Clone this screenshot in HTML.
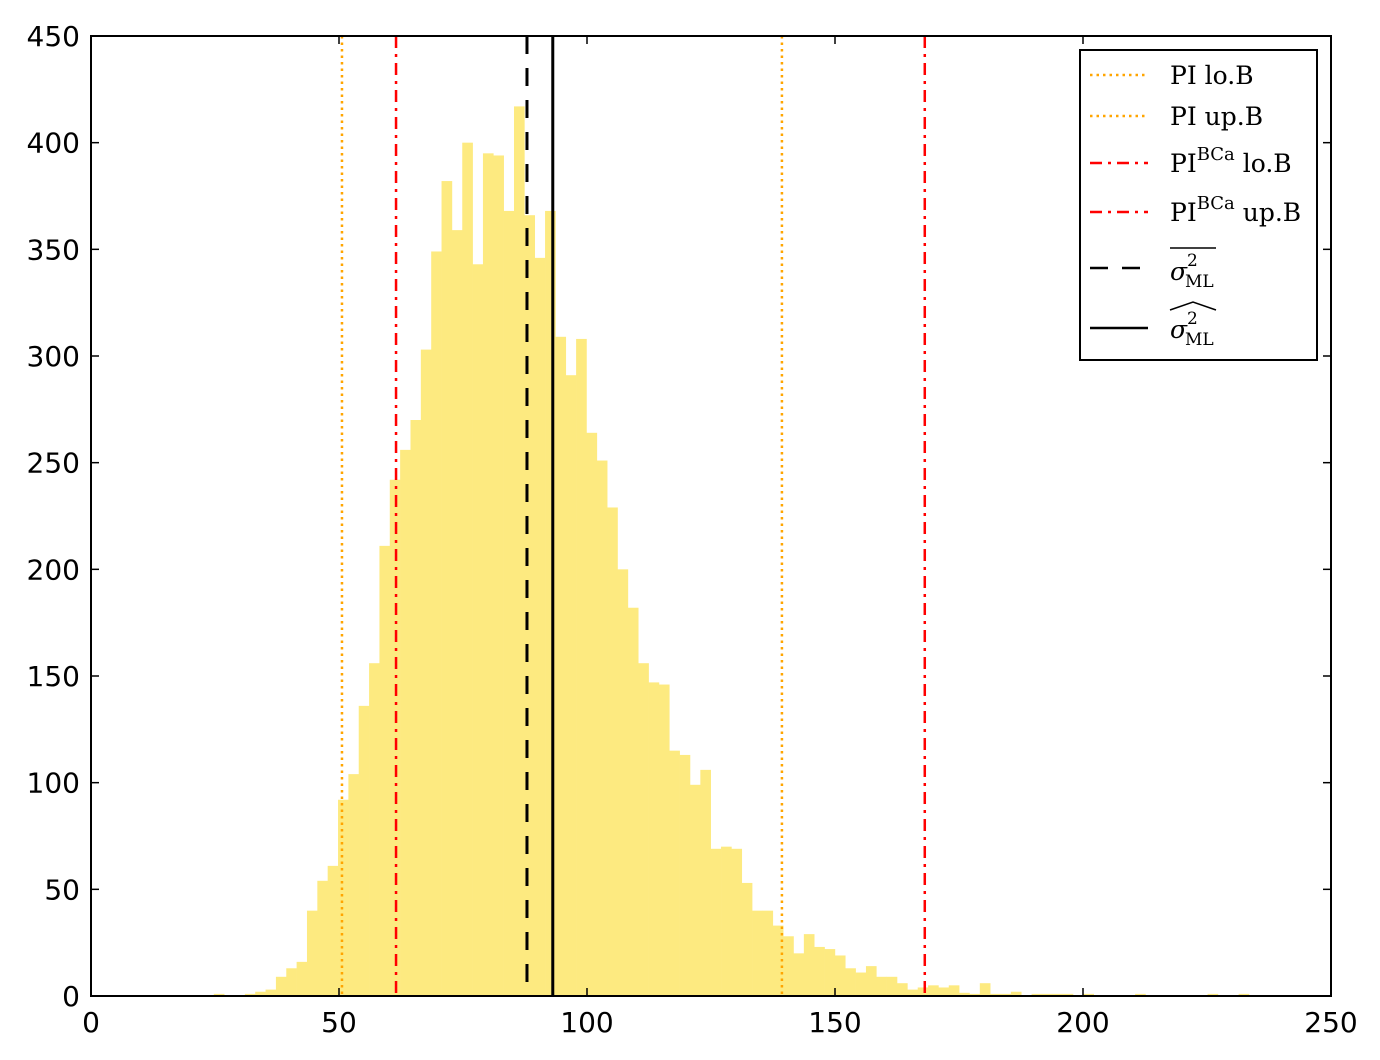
<!DOCTYPE html>
<html><head><meta charset="utf-8"><style>
body{margin:0;background:#fff}
svg{display:block}
.tk{font-family:"DejaVu Sans","Liberation Sans",sans-serif;font-size:28px;fill:#000}
.lg{font-family:"DejaVu Serif","Liberation Serif",serif;font-size:25px;fill:#000}
.sm{font-family:"DejaVu Serif","Liberation Serif",serif;font-size:17px;fill:#000}
</style></head><body>
<svg id="chart" width="1380" height="1060" viewBox="0 0 1380 1060" xmlns="http://www.w3.org/2000/svg">
<rect width="1380" height="1060" fill="#fff"/>
<g id="bars"></g>
<g id="vlines"></g>
<g id="axes"></g>
<g id="legend">
<rect x="1080" y="50" width="237" height="310" fill="#fff" stroke="#000" stroke-width="2"/>
<line x1="1090" y1="75" x2="1148" y2="75" stroke="#ffa500" stroke-width="2.5" stroke-dasharray="2.5,4"/>
<text class="lg" x="1170" y="84">PI lo.B</text>
<line x1="1090" y1="116" x2="1148" y2="116" stroke="#ffa500" stroke-width="2.5" stroke-dasharray="2.5,4"/>
<text class="lg" x="1170" y="125">PI up.B</text>
<line x1="1090" y1="163" x2="1148" y2="163" stroke="#f00" stroke-width="2.5" stroke-dasharray="12,6,3,6"/>
<text class="lg" x="1170" y="172">PI<tspan style="font-size:18px" dy="-12">BCa</tspan><tspan dy="12"> lo.B</tspan></text>
<line x1="1090" y1="212" x2="1148" y2="212" stroke="#f00" stroke-width="2.5" stroke-dasharray="12,6,3,6"/>
<text class="lg" x="1170" y="221">PI<tspan style="font-size:18px" dy="-12">BCa</tspan><tspan dy="12"> up.B</tspan></text>
<line x1="1090" y1="268" x2="1148" y2="268" stroke="#000" stroke-width="2.5" stroke-dasharray="18,14"/>
<line x1="1170" y1="248" x2="1216" y2="248" stroke="#000" stroke-width="1.5"/>
<text class="lg" x="1170" y="280" font-style="italic">σ</text>
<text class="sm" x="1187" y="266">2</text>
<text class="sm" x="1185" y="287">ML</text>
<line x1="1090" y1="328" x2="1148" y2="328" stroke="#000" stroke-width="2.5"/>
<polyline points="1170,310 1193,302 1216,310" fill="none" stroke="#000" stroke-width="1.5"/>
<text class="lg" x="1170" y="338" font-style="italic">σ</text>
<text class="sm" x="1187" y="324">2</text>
<text class="sm" x="1185" y="345">ML</text>
</g>
</svg>
<script>
const counts=[1,0,0,1,2,3,9,13,16,40,54,61,92,104,136,156,211,242,256,270,303,349,382,359,400,343,395,394,368,417,366,346,368,309,291,308,264,251,229,200,182,156,147,146,115,113,99,106,69,70,69,53,40,40,33,28,20,29,23,22,19,13,11,14,9,9,6,3,4,5,4,5,1.5,1,6,1,1,2,0,1,1,1,1,0,1,0,0,0,0,1,0,0,0,0,0,0,1,0,0,1];
const binStart=24.76;
const binWidth=2.087;
const xTicks=[0,50,100,150,200,250];
const yTicks=[0,50,100,150,200,250,300,350,400,450];
const vlineValues=[50.6,139.3,61.5,168.1,87.9,93.1];
const vlineNames=['pi-lo-line','pi-up-line','pi-bca-lo-line','pi-bca-up-line','sigma-mean-line','sigma-hat-line'];
const vlineStyles=[['#ffa500','2.5,4'],['#ffa500','2.5,4'],['#f00','12,6,3,6'],['#f00','12,6,3,6'],['#000','18,14'],['#000','']];
const L=91,R=1331,T=36,B=996;
const xs=v=>L+(v-0)/250*(R-L);
const ys=v=>B-v/450*(B-T);
const NS='http://www.w3.org/2000/svg';
function mk(t,a,p){const e=document.createElementNS(NS,t);for(const k in a)e.setAttribute(k,a[k]);p.appendChild(e);return e;}
const bars=document.getElementById('bars');
counts.forEach((c,i)=>{if(c<=0)return;const x0=xs(binStart+i*binWidth),x1=xs(binStart+(i+1)*binWidth);
const r=mk('rect',{x:x0,y:ys(c),width:x1-x0+0.3,height:B-ys(c),fill:'#fdea80'},bars);

});
const vl=document.getElementById('vlines');
vlineValues.forEach((v,i)=>{const l=mk('line',{x1:xs(v),x2:xs(v),y1:T,y2:B,stroke:vlineStyles[i][0],'stroke-width':i>=4?3:2.5},vl);
if(vlineStyles[i][1])l.setAttribute('stroke-dasharray',vlineStyles[i][1]);

});
const ax=document.getElementById('axes');
const fr=mk('rect',{x:L,y:T,width:R-L,height:B-T,fill:'none',stroke:'#000','stroke-width':2},ax);


xTicks.forEach(v=>{const x=xs(v);mk('line',{x1:x,x2:x,y1:B,y2:B-8,stroke:'#000','stroke-width':1.5},ax);mk('line',{x1:x,x2:x,y1:T,y2:T+8,stroke:'#000','stroke-width':1.5},ax);
const t=mk('text',{x:x,y:B+36,'text-anchor':'middle',class:'tk'},ax);t.textContent=v;

});
yTicks.forEach(v=>{const y=ys(v);mk('line',{x1:L,x2:L+8,y1:y,y2:y,stroke:'#000','stroke-width':1.5},ax);mk('line',{x1:R,x2:R-8,y1:y,y2:y,stroke:'#000','stroke-width':1.5},ax);
const t=mk('text',{x:80,y:y+10,'text-anchor':'end',class:'tk'},ax);t.textContent=v;

});
</script>
</body></html>
